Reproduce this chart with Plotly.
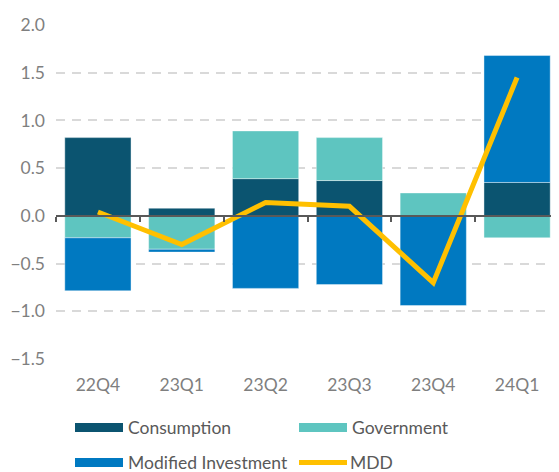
import plotly.graph_objects as go

quarters = ["22Q4", "23Q1", "23Q2", "23Q3", "23Q4", "24Q1"]
consumption = [0.82, 0.08, 0.39, 0.37, 0.0, 0.35]
government = [-0.23, -0.35, 0.50, 0.45, 0.24, -0.23]
investment = [-0.555, -0.03, -0.76, -0.72, -0.94, 1.33]
mdd = [0.04, -0.30, 0.14, 0.10, -0.70, 1.45]
y_ticks = [-1.5, -1.0, -0.5, 0.0, 0.5, 1.0, 1.5, 2.0]

C_CONS = "#0B5470"
C_GOV = "#5EC5C0"
C_INV = "#0079C1"
C_MDD = "#FFC000"
FONT = "Lato"

fig = go.Figure()
bar_line = dict(width=0.8, color="rgba(255,255,255,0.5)")
fig.add_trace(go.Bar(x=quarters, y=consumption, name="Consumption", marker=dict(color=C_CONS, line=bar_line)))
fig.add_trace(go.Bar(x=quarters, y=government, name="Government", marker=dict(color=C_GOV, line=bar_line)))
fig.add_trace(go.Bar(x=quarters, y=investment, name="Modified Investment", marker=dict(color=C_INV, line=bar_line)))
fig.add_trace(go.Scatter(x=quarters, y=mdd, name="MDD", mode="lines",
                         line=dict(color=C_MDD, width=5)))
# invisible trace to drive the zero-crossing category axis with boundary ticks
fig.add_trace(go.Scatter(x=quarters, y=[0] * len(quarters), xaxis="x2", mode="lines",
                         line=dict(width=0), hoverinfo="skip", showlegend=False))

ymin, ymax = -1.5, 2.0
zero_pos = (0 - ymin) / (ymax - ymin)

# page body has an 8px default margin, so the figure starts at (8, 8)
fig.update_layout(
    width=551, height=464,
    margin=dict(l=48, r=0, t=17, b=113),
    paper_bgcolor="white", plot_bgcolor="white",
    barmode="relative", bargap=0.21,
    showlegend=False,
    font=dict(family=FONT, size=17, color="#7F7F7F"),
    xaxis=dict(type="category", categoryorder="array", categoryarray=quarters,
               range=[-0.5, 5.5], showgrid=False, showline=False, zeroline=False,
               ticks="", ticklabelstandoff=13,
               tickfont=dict(family=FONT, size=17.5, color="#7F7F7F")),
    xaxis2=dict(type="category", categoryorder="array", categoryarray=quarters,
                range=[-0.5, 5.5], overlaying="x", anchor="free", position=zero_pos,
                showgrid=False, showticklabels=False, zeroline=False,
                showline=True, linecolor="#595959", linewidth=2,
                ticks="outside", ticklen=5, tickwidth=2, tickcolor="#595959",
                tickson="boundaries"),
    yaxis=dict(range=[ymin, ymax], tickvals=y_ticks, tickformat=".1f",
               showgrid=True, gridcolor="#D9D9D9", gridwidth=2, griddash="9px,7px",
               zeroline=False, showline=False, ticks="", ticklabelstandoff=10,
               tickfont=dict(family=FONT, size=17.5, color="#7F7F7F")),
)

# custom legend (wide swatches like the original); coordinates in page pixels
def px_x(p):
    return (p - 56) / 503.0

def px_y(p):
    return (359 - p) / 334.0

legend_items = [
    ("Consumption", C_CONS, "bar", 75, 427.5),
    ("Government", C_GOV, "bar", 299, 427.5),
    ("Modified Investment", C_INV, "bar", 75, 462.5),
    ("MDD", C_MDD, "line", 297, 462.5),
]
for label, color, kind, x0, yc in legend_items:
    if kind == "bar":
        fig.add_shape(type="rect", xref="paper", yref="paper",
                      x0=px_x(x0), x1=px_x(x0 + 48), y0=px_y(yc + 4.5), y1=px_y(yc - 4.5),
                      fillcolor=color, line=dict(width=0))
    else:
        fig.add_shape(type="line", xref="paper", yref="paper",
                      x0=px_x(x0 + 2), x1=px_x(x0 + 50), y0=px_y(yc), y1=px_y(yc),
                      line=dict(color=color, width=5))
    fig.add_annotation(text=label, xref="paper", yref="paper",
                       x=px_x(x0 + 51), y=px_y(yc), xanchor="left", yanchor="middle",
                       showarrow=False, font=dict(family=FONT, size=17.5, color="#595959"))

fig.write_html("out.html")
